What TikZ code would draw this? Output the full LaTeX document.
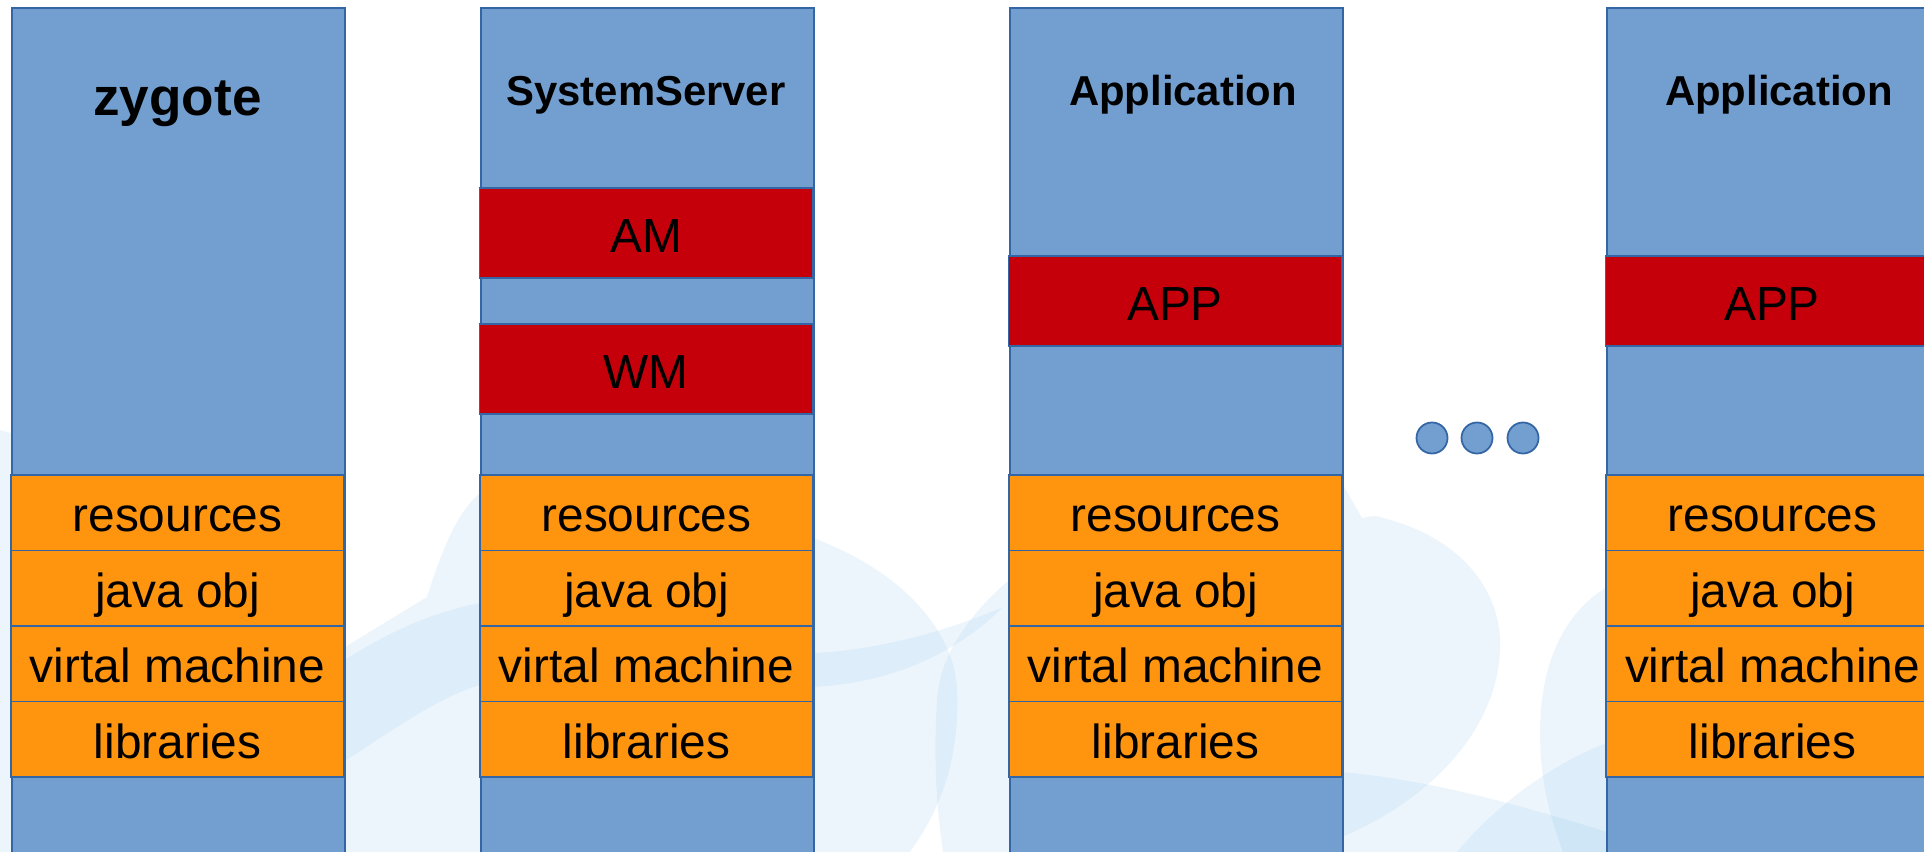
\documentclass[tikz,border=0pt]{standalone}
\usepackage{fontspec}
\setmainfont{Liberation Sans}

\definecolor{skyblue}{HTML}{729FCF}
\definecolor{edgeblue}{HTML}{3465A4}
\definecolor{layerorange}{HTML}{FF950E}
\definecolor{procred}{HTML}{C5000B}
\definecolor{bgtone}{RGB}{110,180,235}

\tikzset{
	procstack/.style={draw=edgeblue, fill=skyblue, line width=0.5pt, anchor=north west, inner sep=0pt, minimum width=3.33cm, minimum height=9cm},
	layerbox/.style={draw=edgeblue, fill=layerorange, line width=0.5pt, inner sep=0pt, minimum width=3.33cm, minimum height=0.755cm, font=\fontsize{13.6}{16}\selectfont, text height=1.25em, text depth=0.16em},
	redbox/.style={layerbox, fill=procred, minimum height=0.9cm},
	stacktitle/.style={anchor=base, inner sep=0pt, font=\bfseries\fontsize{11.9}{14}\selectfont},
	swirl/.style={fill=bgtone, fill opacity=0.12},
	moredot/.style={circle, draw=edgeblue, fill=skyblue, line width=0.5pt, inner sep=0pt, minimum size=0.31cm}
}

\begin{document}
\begin{tikzpicture}[x=0.01cm, y=-0.01cm]
		\useasboundingbox (0,0) rectangle (1924,852);
		\clip (0,0) rectangle (1924,852);
		\fill[white] (0,0) rectangle (1924,852);

		% sfondo
		\fill[swirl] (0,430) .. controls (160,470) and (300,610) .. (345,647) -- (427,597)
			.. controls (445,540) and (460,510) .. (480,493) .. controls (600,420) and (760,500) .. (813,538)
			.. controls (900,570) and (955,630) .. (957,690) .. controls (960,760) and (940,810) .. (910,852)
			-- (0,852) -- cycle;
		\fill[swirl] (1009,580) .. controls (975,610) and (940,650) .. (937,700)
			.. controls (933,760) and (937,810) .. (943,852) -- (1009,852) -- cycle;
		\fill[swirl] (1342,483) -- (1362,518) .. controls (1370,516) and (1378,515) .. (1383,518)
			.. controls (1470,540) and (1503,600) .. (1500,650) .. controls (1497,730) and (1430,800) .. (1342,837) -- cycle;
		\fill[swirl] (1607,587) .. controls (1560,615) and (1540,670) .. (1540,733)
			.. controls (1540,790) and (1555,830) .. (1563,852) -- (1607,852) -- cycle;
		\fill[swirl] (1457,852) .. controls (1500,800) and (1560,760) .. (1607,743) -- (1607,852) -- cycle;
		\fill[swirl] (300,790) .. controls (380,740) and (430,700) .. (480,685)
			.. controls (600,650) and (720,690) .. (813,687) .. controls (880,684) and (950,660) .. (1003,607)
			.. controls (950,630) and (880,650) .. (813,653) .. controls (700,600) and (560,590) .. (480,603)
			.. controls (420,615) and (370,640) .. (300,690) -- cycle;
		\fill[swirl] (1342,772) .. controls (1430,780) and (1520,805) .. (1607,832) -- (1607,852) -- (1342,852) -- cycle;

		% colonne
		\node[procstack] (zyg) at (11,7) {};
		\node[procstack] (ss) at (480,7) {};
		\node[procstack] (appa) at (1009,7) {};
		\node[procstack] (appb) at (1606,7) {};

		\node[stacktitle, font=\bfseries\fontsize{15.1}{18}\selectfont] (zyg-title) at (177.5,116) {zygote};
		\node[stacktitle] (ss-title) at (646,106) {SystemServer};
		\node[stacktitle] (appa-title) at (1183,106) {Application};
		\node[stacktitle] (appb-title) at (1779,106) {Application};

		\node[redbox] (am) at (646,233) {AM};
		\node[redbox] (wm) at (646,369) {WM};
		\node[redbox] (appa-app) at (1175,301) {APP};
		\node[redbox] (appb-app) at (1772,301) {APP};

		\node[layerbox] (zyg-res) at (177.5,512.75) {resources};
		\node[layerbox] (zyg-obj) at (177.5,588.25) {java obj};
		\node[layerbox] (zyg-vm) at (177.5,663.75) {virtal machine};
		\node[layerbox] (zyg-lib) at (177.5,739.25) {libraries};

		\node[layerbox] (ss-res) at (646.5,512.75) {resources};
		\node[layerbox] (ss-obj) at (646.5,588.25) {java obj};
		\node[layerbox] (ss-vm) at (646.5,663.75) {virtal machine};
		\node[layerbox] (ss-lib) at (646.5,739.25) {libraries};

		\node[layerbox] (appa-res) at (1175.5,512.75) {resources};
		\node[layerbox] (appa-obj) at (1175.5,588.25) {java obj};
		\node[layerbox] (appa-vm) at (1175.5,663.75) {virtal machine};
		\node[layerbox] (appa-lib) at (1175.5,739.25) {libraries};

		\node[layerbox] (appb-res) at (1772.5,512.75) {resources};
		\node[layerbox] (appb-obj) at (1772.5,588.25) {java obj};
		\node[layerbox] (appb-vm) at (1772.5,663.75) {virtal machine};
		\node[layerbox] (appb-lib) at (1772.5,739.25) {libraries};

		% altri processi
		\node[moredot] (d1) at (1432,438) {};
		\node[moredot] (d2) at (1477,438) {};
		\node[moredot] (d3) at (1523,438) {};
	\end{tikzpicture}
\end{document}
